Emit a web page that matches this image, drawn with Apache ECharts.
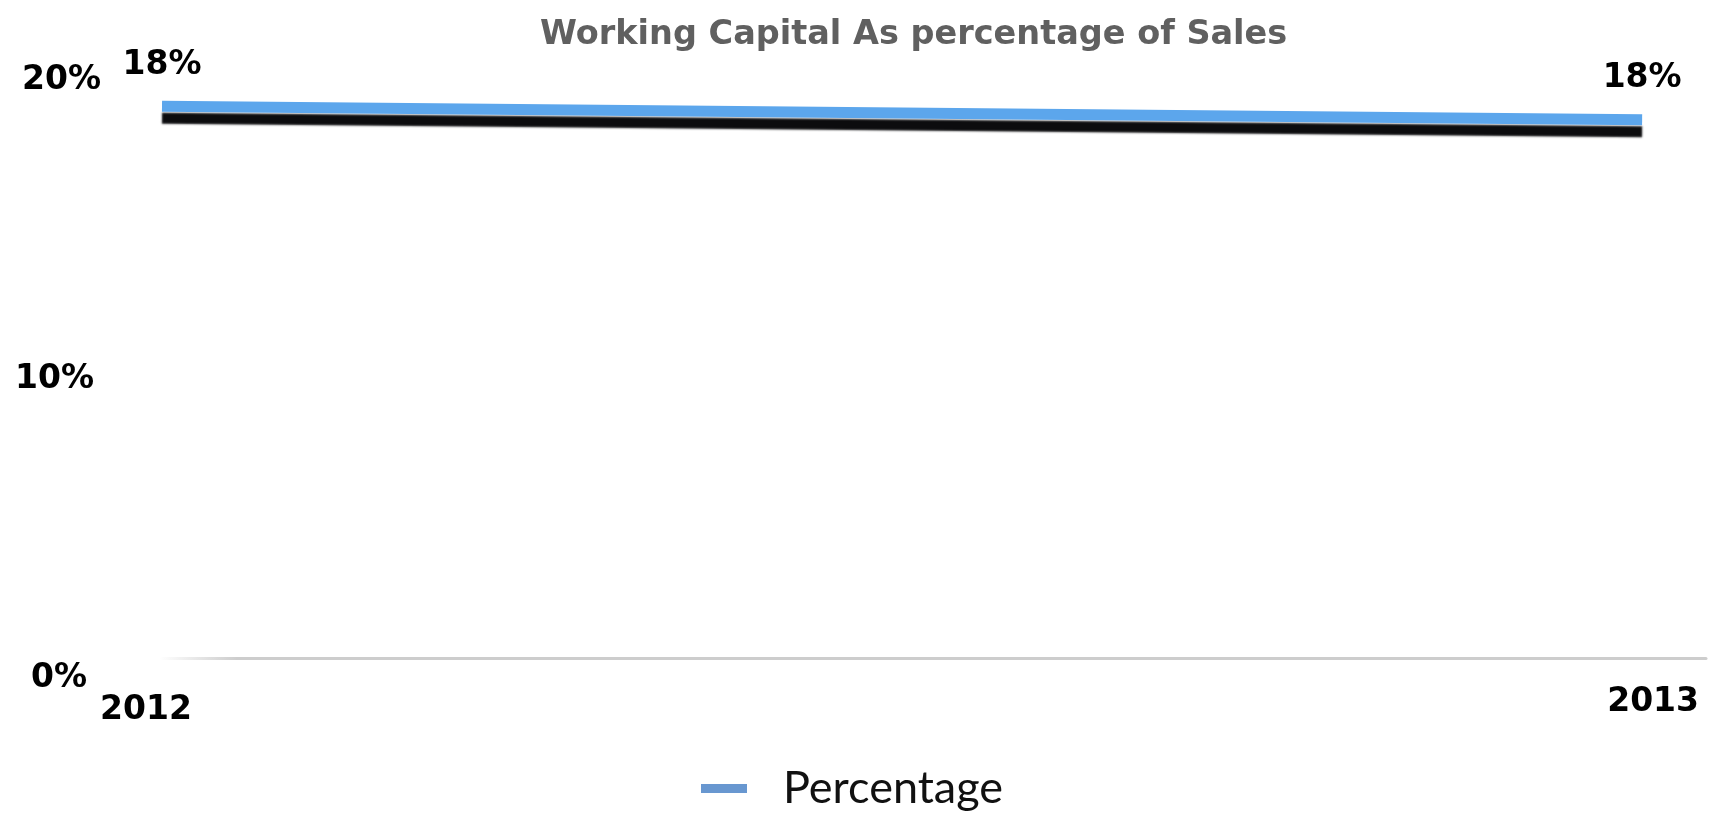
<!DOCTYPE html>
<html>
<head>
<meta charset="utf-8">
<title>Working Capital As percentage of Sales</title>
<script src="https://cdn.jsdelivr.net/npm/echarts@6/dist/echarts.min.js"></script>
<style>
  html, body { margin: 0; padding: 0; background: #ffffff; }
  #chart { width: 1709px; height: 813px; }
</style>
</head>
<body>
<div id="chart"></div>
<script>
// Working capital as a share of sales, per year
const years = [2012, 2013];
const percentages = [18.45, 18.0];
const seriesName = 'Percentage';
const chartTitle = 'Working Capital As percentage of Sales';
const yMin = 0;
const yMax = 20;
const yInterval = 10;

const chart = echarts.init(document.getElementById('chart'), null, { renderer: 'canvas' });

const boldFont = { fontFamily: 'DejaVu Sans', fontWeight: 'bold', fontSize: 33, color: '#000' };

const option = {
  animation: false,
  backgroundColor: '#ffffff',
  title: {
    text: chartTitle,
    left: 540,
    top: 18,
    padding: 0,
    textStyle: { fontFamily: 'DejaVu Sans', fontWeight: 'bold', fontSize: 33.5, color: '#606060' }
  },
  legend: {
    left: 701,
    top: 766,
    padding: 0,
    icon: 'rect',
    itemWidth: 46,
    itemHeight: 9,
    data: [{ name: seriesName, itemStyle: { color: '#6897d0', borderWidth: 0 } }],
    textStyle: { fontFamily: 'Lato', fontSize: 45, color: '#111', padding: [0, 0, 0, 31] }
  },
  grid: { left: 162, right: 0, top: 60, bottom: 155, containLabel: false },
  xAxis: {
    type: 'value',
    min: years[0],
    max: years[0] + 1547 / 1483,
    interval: 1,
    axisTick: { show: false },
    splitLine: { show: false },
    axisLine: {
      show: true,
      lineStyle: {
        width: 3,
        color: {
          type: 'linear', x: 0, y: 0, x2: 1, y2: 0,
          colorStops: [
            { offset: 0, color: 'rgba(205,205,205,0)' },
            { offset: 0.05, color: 'rgba(205,205,205,1)' },
            { offset: 1, color: 'rgba(205,205,205,1)' }
          ]
        }
      }
    },
    axisLabel: {
      margin: 28,
      showMaxLabel: true,
      formatter: function (v) {
        const i = years.indexOf(v);
        return i < 0 ? '' : '{y' + i + '|' + years[i] + '}';
      },
      rich: {
        y0: Object.assign({}, boldFont, { lineHeight: 33, padding: [16, 32, 0, 0] }),
        y1: Object.assign({}, boldFont, { lineHeight: 33, padding: [0, 0, 0, 22] })
      }
    }
  },
  yAxis: {
    type: 'value',
    min: yMin,
    max: yMax,
    interval: yInterval,
    axisLine: { show: false },
    axisTick: { show: false },
    splitLine: { show: false },
    axisLabel: {
      margin: 61,
      padding: [40, 0, 0, 0],
      formatter: function (v) { return '{t' + v + '|' + v + '%}'; },
      rich: {
        t0: Object.assign({}, boldFont, { padding: [0, 14, 0, 0] }),
        t10: Object.assign({}, boldFont, { padding: [0, 7, 0, 0] }),
        t20: Object.assign({}, boldFont, { padding: [0, 0, 0, 0] })
      }
    }
  },
  series: [{
    name: seriesName,
    type: 'line',
    data: years.map((y, i) => [y, percentages[i]]),
    symbol: 'circle',
    symbolSize: 1,
    itemStyle: { color: 'rgba(0,0,0,0)' },
    lineStyle: {
      width: 11,
      color: '#5ca6ec',
      shadowColor: 'rgba(12,12,14,1)',
      shadowBlur: 2,
      shadowOffsetY: 12
    },
    label: {
      show: true,
      position: 'top',
      distance: 24,
      formatter: function (p) { return Math.round(p.value[1]) + '%'; },
      fontFamily: 'DejaVu Sans',
      fontWeight: 'bold',
      fontSize: 33,
      color: '#000'
    }
  }]
};

chart.setOption(option);
</script>
</body>
</html>
